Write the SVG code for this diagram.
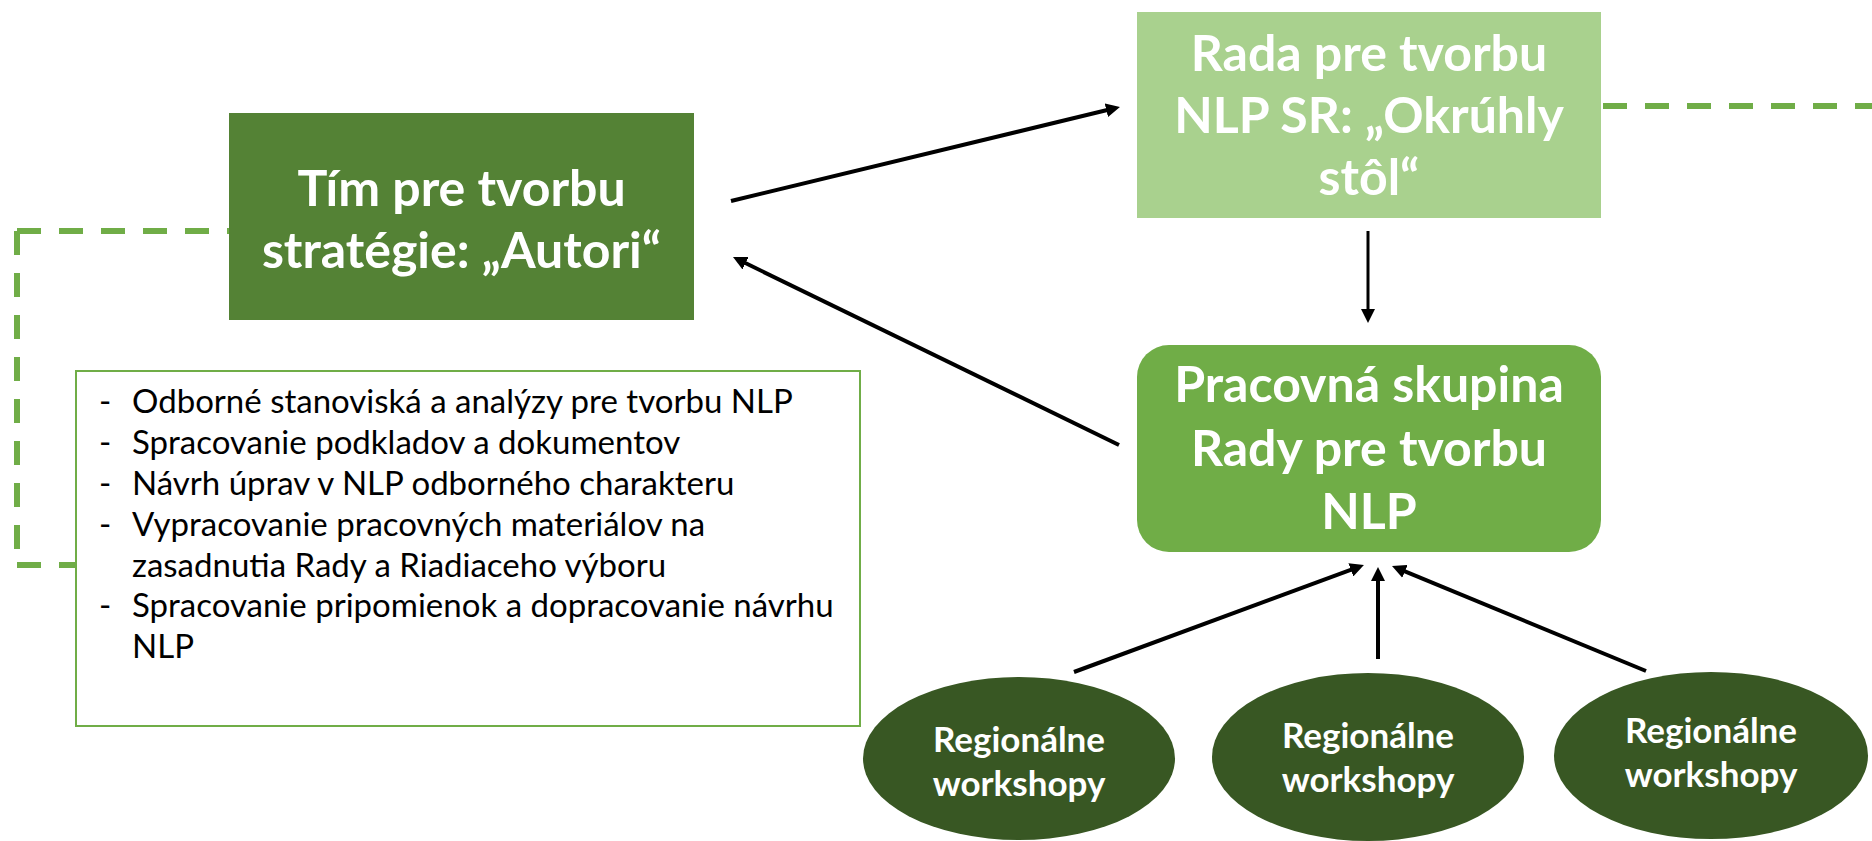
<svg xmlns="http://www.w3.org/2000/svg" width="1872" height="841" viewBox="0 0 1872 841">
<style>
.title{font-family:Lato,"Liberation Sans",sans-serif;font-weight:700;font-size:50px;fill:#ffffff;text-anchor:middle}
.ell{font-family:Lato,"Liberation Sans",sans-serif;font-weight:700;font-size:35px;fill:#ffffff;text-anchor:middle}
.list{font-family:Lato,"Liberation Sans",sans-serif;font-size:33px;fill:#000000}
.dash{fill:none;stroke:#70AD47;stroke-width:6;stroke-dasharray:24 18}
.arr{fill:none;stroke:#000000;stroke-width:4;marker-end:url(#ah)}
</style>
<defs>
<marker id="ah" markerUnits="userSpaceOnUse" markerWidth="16" markerHeight="14" refX="2" refY="7" orient="auto" viewBox="0 0 16 14">
<path d="M0,0 L14,7 L0,14 z" fill="#000000"/>
</marker>
</defs>
<rect width="1872" height="841" fill="#ffffff"/>

<g id="connectors">
<path class="dash" d="M17,231 H229"/>
<path class="dash" d="M17,231 V565"/>
<path class="dash" d="M17,565 H76"/>
<path class="dash" d="M1603,106 H1872"/>
<line class="arr" x1="731" y1="201" x2="1108.3" y2="109.8"/>
<line class="arr" x1="1119" y1="445" x2="743.8" y2="262.3"/>
<line class="arr" x1="1368" y1="231" x2="1368" y2="311" style="stroke-width:3"/>
<line class="arr" x1="1074" y1="672" x2="1352.7" y2="569.2"/>
<line class="arr" x1="1378" y1="659" x2="1378" y2="579"/>
<line class="arr" x1="1646" y1="671" x2="1403.1" y2="570.6"/>
</g>

<g id="tim">
<rect x="229" y="113" width="465" height="207" fill="#548235"/>
<text class="title" x="461.5" y="206">Tím pre tvorbu</text>
<text class="title" x="461.5" y="268">stratégie: „Autori“</text>
</g>

<g id="rada">
<rect x="1137" y="12" width="464" height="206" fill="#A9D18E"/>
<text class="title" x="1369" y="71">Rada pre tvorbu</text>
<text class="title" x="1369" y="133">NLP SR: „Okrúhly</text>
<text class="title" x="1369" y="195">stôl“</text>
</g>

<g id="pracovna">
<rect x="1137" y="345" width="464" height="207" rx="32" ry="32" fill="#70AD47"/>
<text class="title" x="1369" y="402">Pracovná skupina</text>
<text class="title" x="1369" y="466">Rady pre tvorbu</text>
<text class="title" x="1369" y="529">NLP</text>
</g>

<g id="ulohy">
<rect x="76" y="371" width="784" height="355" fill="#ffffff" stroke="#70AD47" stroke-width="2"/>
<text class="list" x="99" y="413">-</text><text class="list" x="132" y="413">Odborné stanoviská a analýzy pre tvorbu NLP</text>
<text class="list" x="99" y="454">-</text><text class="list" x="132" y="454">Spracovanie podkladov a dokumentov</text>
<text class="list" x="99" y="495">-</text><text class="list" x="132" y="495">Návrh úprav v NLP odborného charakteru</text>
<text class="list" x="99" y="536">-</text><text class="list" x="132" y="536">Vypracovanie pracovných materiálov na</text>
<text class="list" x="132" y="577">zasadnutia Rady a Riadiaceho výboru</text>
<text class="list" x="99" y="617">-</text><text class="list" x="132" y="617">Spracovanie pripomienok a dopracovanie návrhu</text>
<text class="list" x="132" y="658">NLP</text>
</g>

<g id="workshop1">
<ellipse cx="1019" cy="758.5" rx="156" ry="81.5" fill="#385723"/>
<text class="ell" x="1019" y="752">Regionálne</text>
<text class="ell" x="1019" y="796">workshopy</text>
</g>
<g id="workshop2">
<ellipse cx="1368" cy="757" rx="156" ry="84" fill="#385723"/>
<text class="ell" x="1368" y="748">Regionálne</text>
<text class="ell" x="1368" y="792">workshopy</text>
</g>
<g id="workshop3">
<ellipse cx="1711" cy="755.5" rx="157" ry="83.5" fill="#385723"/>
<text class="ell" x="1711" y="743">Regionálne</text>
<text class="ell" x="1711" y="787">workshopy</text>
</g>
</svg>
